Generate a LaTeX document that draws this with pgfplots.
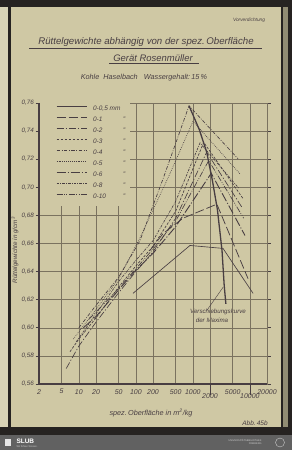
\documentclass[border=0pt]{standalone}
\usepackage{fontspec}
\setmainfont{Liberation Sans}
\usepackage{pgfplots}
\pgfplotsset{compat=1.18}
\definecolor{paper}{RGB}{207,200,164}
\definecolor{ink}{RGB}{72,62,66}
\definecolor{gridc}{RGB}{122,114,95}
\definecolor{darkbg}{RGB}{38,35,33}
\begin{document}
\begin{tikzpicture}[x=1bp,y=1bp]
\path[use as bounding box] (0,0) rectangle (292,450);
\fill[darkbg] (0,0) rectangle (292,450);
\fill[paper!80!white] (0,23) rectangle (8,443);
\fill[paper] (11,23) rectangle (281,443);
\fill[paper!70!black] (283,23) rectangle (288,443);
\fill[black!62] (0,0) rectangle (292,15);
\fill[white!90!black] (5,4) rectangle (11,11);
\node[anchor=west,text=white,font=\bfseries\fontsize{6.5}{7}\selectfont] at (13,8.5) {SLUB};
\node[anchor=west,text=white!80!black,font=\fontsize{2.5}{3}\selectfont] at (13,3) {Wir führen Wissen.};
\node[anchor=east,text=white!80!black,font=\fontsize{2.5}{3}\selectfont,align=right] at (265,8) {UNIVERSITÄTSBIBLIOTHEK\\FREIBERG};
\draw[white!80!black,line width=0.4bp] (280,7.5) circle (4.5);
% texts
\node[text=ink,font=\itshape\fontsize{4.8}{6}\selectfont] at (249,430) {Vorverdichtung};
\node[text=ink,font=\itshape\fontsize{9.7}{11}\selectfont] at (146,407.5) {Rüttelgewichte abhängig von der spez.\,Oberfläche};
\draw[ink,line width=0.6bp] (29,402) -- (262,402);
\node[text=ink,font=\itshape\fontsize{9.5}{11}\selectfont] at (153,391.5) {Gerät Rosenmüller};
\draw[ink,line width=0.6bp] (109,387) -- (199,387);
\node[text=ink,font=\itshape\fontsize{7.3}{9}\selectfont] at (144,372) {Kohle\ \ Haselbach\ \ \ Wassergehalt:\,15\,\%};
\node[text=ink,rotate=90,font=\itshape\fontsize{6.3}{7}\selectfont] at (15,200) {Rüttelgewichte in g/cm\textsuperscript{3}};
\node[text=ink,font=\itshape\fontsize{7.3}{9}\selectfont] at (151,37) {spez.\,Oberfläche in m\textsuperscript{2}/kg};
\node[text=ink,font=\itshape\fontsize{6.5}{8}\selectfont] at (255,27) {Abb.\,45b};
\node[text=ink,font=\itshape\fontsize{6.2}{7}\selectfont] at (218,138) {Verschiebungskurve};
\node[text=ink,font=\itshape\fontsize{6.2}{7}\selectfont] at (212,130) {der Maxima};
\begin{axis}[
  at={(39bp,66bp)}, anchor=south west, scale only axis,
  width=228bp, height=281bp,
  xmode=log, xmin=2, xmax=20000, ymin=0.56, ymax=0.76,
  xtick={2,5,10,20,50,100,200,500,1000,2000,5000,10000,20000},
  xticklabels={2,5,10,20,50,100,200,500,1000,{\mbox{}\\2000},5000,{\mbox{}\\10000},20000},
  ytick={0.56,0.58,0.60,0.62,0.64,0.66,0.68,0.70,0.72,0.74,0.76},
  yticklabels={{0,56},{0,58},{0,60},{0,62},{0,64},{0,66},{0,68},{0,70},{0,72},{0,74},{0,76}},
  xticklabel style={text=ink,font=\itshape\fontsize{7}{9}\selectfont,align=center,inner sep=1.5bp},
  yticklabel style={text=ink,font=\itshape\fontsize{6.3}{7}\selectfont,inner sep=1.5bp},
  grid=major, major grid style={gridc,line width=0.45bp},
  axis line style={gridc,line width=0.45bp},
  tick align=outside, major tick length=3.5bp,
  xtick style={draw=none}, ytick style={ink,line width=0.6bp},
  clip=false,
  legend cell align=left,
  legend style={at={(0.0746,0.993)}, anchor=north west, draw=none, fill=none,
    inner sep=0pt, row sep=4.8bp, text=ink,
    font=\itshape\fontsize{6.5}{7}\selectfont,
    nodes={inner sep=0pt, text height=5bp, text depth=1.2bp}},
  legend image code/.code={\draw[#1] (0bp,2.3bp) -- (30bp,2.3bp); \path (36bp,2.3bp);},
  every axis plot/.append style={ink, line width=0.65bp},
]
\fill[paper] (rel axis cs:0.006,0.632) rectangle (rel axis cs:0.40,1.002);
\addplot[solid] coordinates {(89,0.6245) (891,0.6586) (3380,0.6565) (11400,0.6245)};
\addplot[line width=0.75bp, dash pattern=on 9bp off 3bp] coordinates {(177,0.655) (299,0.667) (672,0.678) (2640,0.688) (9290,0.635)};
\addplot[dash pattern=on 7bp off 2bp on 1.2bp off 2bp] coordinates {(6,0.571) (10,0.587) (20,0.604) (50,0.625) (100,0.640) (200,0.654) (500,0.678) (1750,0.725) (7200,0.686)};
\addplot[dash pattern=on 2.5bp off 1.5bp] coordinates {(7,0.583) (10,0.592) (20,0.607) (50,0.629) (100,0.644) (200,0.658) (500,0.683) (1550,0.732) (7586,0.692)};
\addplot[dash pattern=on 3.5bp off 1.5bp on 0.8bp off 1.5bp] coordinates {(10,0.600) (20,0.616) (50,0.636) (118,0.662) (300,0.706) (857,0.758) (6200,0.7203)};
\addplot[dash pattern=on 0.7bp off 1.2bp] coordinates {(8,0.592) (20,0.613) (50,0.635) (118,0.664) (400,0.710) (1005,0.747) (6700,0.7096)};
\addplot[line width=0.9bp, dash pattern=on 9bp off 2bp on 1bp off 2bp] coordinates {(12,0.600) (20,0.608) (50,0.627) (100,0.641) (200,0.653) (500,0.672) (2100,0.710) (8220,0.6657)};
\addplot[dash pattern=on 2.5bp off 1.2bp on 0.8bp off 1.2bp] coordinates {(9,0.590) (20,0.610) (50,0.633) (100,0.648) (200,0.662) (500,0.690) (1336,0.7316) (6500,0.699)};
\addplot[dash pattern=on 6bp off 1.5bp on 0.8bp off 1.5bp on 0.8bp off 1.5bp] coordinates {(15,0.606) (50,0.628) (100,0.642) (200,0.656) (500,0.676) (1900,0.719) (7800,0.678)};
\addplot[forget plot, solid, line width=1.3bp] coordinates {(857,0.758) (1300,0.741) (1750,0.725) (2200,0.705) (2700,0.684) (3250,0.655) (3550,0.630) (3800,0.617)};
\addplot[forget plot, solid, line width=0.4bp] coordinates {(1770,0.6125) (3383,0.6288)};
\legend{{0-0,5 mm},{\makebox[30bp][l]{0-1}\char34},{\makebox[30bp][l]{0-2}\char34},{\makebox[30bp][l]{0-3}\char34},{\makebox[30bp][l]{0-4}\char34},{\makebox[30bp][l]{0-5}\char34},{\makebox[30bp][l]{0-6}\char34},{\makebox[30bp][l]{0-8}\char34},{\makebox[30bp][l]{0-10}\char34}}
\draw[ink,line width=1.2bp] (rel axis cs:0,1) -- (rel axis cs:0,0) -- (rel axis cs:1,0);
\draw[ink,line width=0.5bp] (axis cs:2000,0.56) -- (axis cs:2000,0.5522);
\draw[ink,line width=0.5bp] (axis cs:10000,0.56) -- (axis cs:10000,0.5522);
\end{axis}
\end{tikzpicture}
\end{document}
